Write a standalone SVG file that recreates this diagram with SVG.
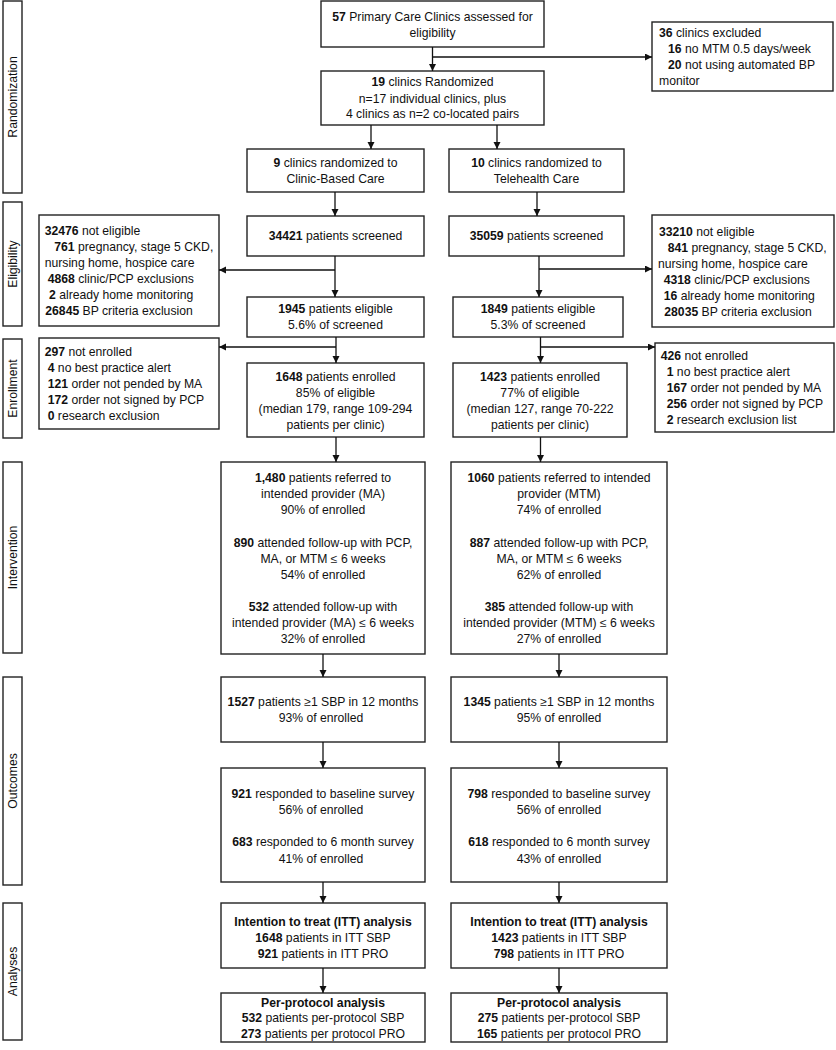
<svg xmlns="http://www.w3.org/2000/svg" width="836" height="1050" viewBox="0 0 836 1050">
<defs>
<marker id="ah" markerUnits="userSpaceOnUse" markerWidth="8" markerHeight="8" refX="7" refY="3.5" orient="auto">
<path d="M0,0 L7,3.5 L0,7 z" fill="#111"/>
</marker>
<style>
.b{fill:#fff;stroke:#222;stroke-width:1.4}
.t{font-family:"Liberation Sans",Arial,sans-serif;font-size:12.2px;fill:#111}
.c{text-anchor:middle}
.n{font-weight:bold}
#connectors path{stroke:#111;stroke-width:1.3;fill:none}
</style>
</defs>
<rect width="836" height="1050" fill="#fff"/>

<g id="lbl-randomization"><rect class="b" x="3" y="1" width="19" height="192"/><text class="t c" transform="translate(16.8,97) rotate(-90)">Randomization</text></g>
<g id="lbl-eligibility"><rect class="b" x="3" y="202" width="19" height="124"/><text class="t c" transform="translate(16.8,264) rotate(-90)">Eligibility</text></g>
<g id="lbl-enrollment"><rect class="b" x="3" y="339" width="19" height="99"/><text class="t c" transform="translate(16.8,388.5) rotate(-90)">Enrollment</text></g>
<g id="lbl-intervention"><rect class="b" x="3" y="462" width="19" height="191"/><text class="t c" transform="translate(16.8,557.5) rotate(-90)">Intervention</text></g>
<g id="lbl-outcomes"><rect class="b" x="3" y="677" width="19" height="208"/><text class="t c" transform="translate(16.8,781) rotate(-90)">Outcomes</text></g>
<g id="lbl-analyses"><rect class="b" x="3" y="903" width="19" height="137"/><text class="t c" transform="translate(16.8,971.5) rotate(-90)">Analyses</text></g>

<g id="assessed"><rect class="b" x="321" y="1" width="223" height="46"/>
<text class="t c" x="432.5" y="20.5"><tspan class="n">57</tspan> Primary Care Clinics assessed for</text>
<text class="t c" x="432.5" y="37">eligibility</text></g>

<g id="excluded"><rect class="b" x="652" y="22" width="181" height="69"/>
<text class="t" x="659" y="36.5"><tspan class="n">36</tspan> clinics excluded</text>
<text class="t" x="668" y="52.5"><tspan class="n">16</tspan> no MTM 0.5 days/week</text>
<text class="t" x="668" y="69"><tspan class="n">20</tspan> not using automated BP</text>
<text class="t" x="659" y="85">monitor</text></g>

<g id="randomized"><rect class="b" x="321" y="71" width="223" height="54"/>
<text class="t c" x="432.5" y="86"><tspan class="n">19</tspan> clinics Randomized</text>
<text class="t c" x="432.5" y="102.5">n=17 individual clinics, plus</text>
<text class="t c" x="432.5" y="118">4 clinics as n=2 co-located pairs</text></g>

<g id="clinic-based"><rect class="b" x="247" y="149" width="177" height="43"/>
<text class="t c" x="335.5" y="166.5"><tspan class="n">9</tspan> clinics randomized to</text>
<text class="t c" x="335.5" y="183">Clinic-Based Care</text></g>

<g id="telehealth"><rect class="b" x="449" y="149" width="175" height="43"/>
<text class="t c" x="536.5" y="166.5"><tspan class="n">10</tspan> clinics randomized to</text>
<text class="t c" x="536.5" y="183">Telehealth Care</text></g>

<g id="not-eligible-left"><rect class="b" x="39" y="215" width="180" height="111"/>
<text class="t" x="44.7" y="235"><tspan class="n">32476</tspan> not eligible</text>
<text class="t" x="54.3" y="251"><tspan class="n">761</tspan> pregnancy, stage 5 CKD,</text>
<text class="t" x="44.7" y="267">nursing home, hospice care</text>
<text class="t" x="47.7" y="283"><tspan class="n">4868</tspan> clinic/PCP exclusions</text>
<text class="t" x="49" y="299"><tspan class="n">2</tspan> already home monitoring</text>
<text class="t" x="45.3" y="315"><tspan class="n">26845</tspan> BP criteria exclusion</text></g>

<g id="screened-left"><rect class="b" x="247" y="216" width="177" height="40"/>
<text class="t c" x="335.5" y="240"><tspan class="n">34421</tspan> patients screened</text></g>

<g id="screened-right"><rect class="b" x="449" y="216" width="175" height="40"/>
<text class="t c" x="536.5" y="240"><tspan class="n">35059</tspan> patients screened</text></g>

<g id="not-eligible-right"><rect class="b" x="652" y="215" width="182" height="112"/>
<text class="t" x="659" y="236"><tspan class="n">33210</tspan> not eligible</text>
<text class="t" x="667.7" y="252"><tspan class="n">841</tspan> pregnancy, stage 5 CKD,</text>
<text class="t" x="658" y="267.5">nursing home, hospice care</text>
<text class="t" x="663.7" y="283.5"><tspan class="n">4318</tspan> clinic/PCP exclusions</text>
<text class="t" x="663.7" y="299.5"><tspan class="n">16</tspan> already home monitoring</text>
<text class="t" x="664.3" y="315.5"><tspan class="n">28035</tspan> BP criteria exclusion</text></g>

<g id="eligible-left"><rect class="b" x="247" y="297" width="177" height="40"/>
<text class="t c" x="335.5" y="313"><tspan class="n">1945</tspan> patients eligible</text>
<text class="t c" x="335.5" y="329">5.6% of screened</text></g>

<g id="eligible-right"><rect class="b" x="453" y="297" width="170" height="40"/>
<text class="t c" x="538" y="313"><tspan class="n">1849</tspan> patients eligible</text>
<text class="t c" x="538" y="329">5.3% of screened</text></g>

<g id="not-enrolled-left"><rect class="b" x="39" y="338" width="180" height="91"/>
<text class="t" x="44.7" y="356"><tspan class="n">297</tspan> not enrolled</text>
<text class="t" x="47.7" y="372"><tspan class="n">4</tspan> no best practice alert</text>
<text class="t" x="47.7" y="388"><tspan class="n">121</tspan> order not pended by MA</text>
<text class="t" x="47.7" y="404"><tspan class="n">172</tspan> order not signed by PCP</text>
<text class="t" x="47.7" y="420"><tspan class="n">0</tspan> research exclusion</text></g>

<g id="enrolled-left"><rect class="b" x="247" y="363" width="177" height="74"/>
<text class="t c" x="335.5" y="381"><tspan class="n">1648</tspan> patients enrolled</text>
<text class="t c" x="335.5" y="397">85% of eligible</text>
<text class="t c" x="335.5" y="413">(median 179, range 109-294</text>
<text class="t c" x="335.5" y="429">patients per clinic)</text></g>

<g id="enrolled-right"><rect class="b" x="453" y="363" width="174" height="74"/>
<text class="t c" x="540" y="381"><tspan class="n">1423</tspan> patients enrolled</text>
<text class="t c" x="540" y="397">77% of eligible</text>
<text class="t c" x="540" y="413">(median 127, range 70-222</text>
<text class="t c" x="540" y="429">patients per clinic)</text></g>

<g id="not-enrolled-right"><rect class="b" x="655" y="343" width="179" height="89"/>
<text class="t" x="660.7" y="359.5"><tspan class="n">426</tspan> not enrolled</text>
<text class="t" x="666.7" y="375.5"><tspan class="n">1</tspan> no best practice alert</text>
<text class="t" x="666.7" y="391.5"><tspan class="n">167</tspan> order not pended by MA</text>
<text class="t" x="666.7" y="407.5"><tspan class="n">256</tspan> order not signed by PCP</text>
<text class="t" x="666.7" y="424"><tspan class="n">2</tspan> research exclusion list</text></g>

<g id="intervention-left"><rect class="b" x="221" y="462" width="204" height="192"/>
<text class="t c" x="323" y="482"><tspan class="n">1,480</tspan> patients referred to</text>
<text class="t c" x="323" y="498">intended provider (MA)</text>
<text class="t c" x="323" y="514">90% of enrolled</text>
<text class="t c" x="323" y="546.5"><tspan class="n">890</tspan> attended follow-up with PCP,</text>
<text class="t c" x="323" y="562.5">MA, or MTM ≤ 6 weeks</text>
<text class="t c" x="323" y="578.5">54% of enrolled</text>
<text class="t c" x="323" y="611"><tspan class="n">532</tspan> attended follow-up with</text>
<text class="t c" x="323" y="627">intended provider (MA) ≤ 6 weeks</text>
<text class="t c" x="323" y="643">32% of enrolled</text></g>

<g id="intervention-right"><rect class="b" x="451" y="462" width="216" height="192"/>
<text class="t c" x="559" y="482"><tspan class="n">1060</tspan> patients referred to intended</text>
<text class="t c" x="559" y="498">provider (MTM)</text>
<text class="t c" x="559" y="514">74% of enrolled</text>
<text class="t c" x="559" y="546.5"><tspan class="n">887</tspan> attended follow-up with PCP,</text>
<text class="t c" x="559" y="562.5">MA, or MTM ≤ 6 weeks</text>
<text class="t c" x="559" y="578.5">62% of enrolled</text>
<text class="t c" x="559" y="611"><tspan class="n">385</tspan> attended follow-up with</text>
<text class="t c" x="559" y="627">intended provider (MTM) ≤ 6 weeks</text>
<text class="t c" x="559" y="643">27% of enrolled</text></g>

<g id="sbp-left"><rect class="b" x="221" y="677" width="204" height="65"/>
<text class="t c" x="323" y="706"><tspan class="n">1527</tspan> patients ≥1 SBP in 12 months</text>
<text class="t c" x="321" y="722">93% of enrolled</text></g>

<g id="sbp-right"><rect class="b" x="451" y="677" width="216" height="65"/>
<text class="t c" x="559" y="706"><tspan class="n">1345</tspan> patients ≥1 SBP in 12 months</text>
<text class="t c" x="559" y="722">95% of enrolled</text></g>

<g id="survey-left"><rect class="b" x="221" y="768" width="204" height="114"/>
<text class="t c" x="323" y="797.5"><tspan class="n">921</tspan> responded to baseline survey</text>
<text class="t c" x="321" y="813.5">56% of enrolled</text>
<text class="t c" x="323" y="846"><tspan class="n">683</tspan> responded to 6 month survey</text>
<text class="t c" x="321" y="862.5">41% of enrolled</text></g>

<g id="survey-right"><rect class="b" x="451" y="768" width="216" height="114"/>
<text class="t c" x="559" y="797.5"><tspan class="n">798</tspan> responded to baseline survey</text>
<text class="t c" x="559" y="813.5">56% of enrolled</text>
<text class="t c" x="559" y="846"><tspan class="n">618</tspan> responded to 6 month survey</text>
<text class="t c" x="559" y="862.5">43% of enrolled</text></g>

<g id="itt-left"><rect class="b" x="221" y="903" width="204" height="65"/>
<text class="t c n" x="323" y="926">Intention to treat (ITT) analysis</text>
<text class="t c" x="323" y="942"><tspan class="n">1648</tspan> patients in ITT SBP</text>
<text class="t c" x="323" y="958"><tspan class="n">921</tspan> patients in ITT PRO</text></g>

<g id="itt-right"><rect class="b" x="451" y="903" width="216" height="65"/>
<text class="t c n" x="559" y="926">Intention to treat (ITT) analysis</text>
<text class="t c" x="559" y="942"><tspan class="n">1423</tspan> patients in ITT SBP</text>
<text class="t c" x="559" y="958"><tspan class="n">798</tspan> patients in ITT PRO</text></g>

<g id="pp-left"><rect class="b" x="221" y="993" width="204" height="49"/>
<text class="t c n" x="323" y="1006.5">Per-protocol analysis</text>
<text class="t c" x="323" y="1022"><tspan class="n">532</tspan> patients per-protocol SBP</text>
<text class="t c" x="323" y="1037.5"><tspan class="n">273</tspan> patients per protocol PRO</text></g>

<g id="pp-right"><rect class="b" x="451" y="993" width="216" height="49"/>
<text class="t c n" x="559" y="1006.5">Per-protocol analysis</text>
<text class="t c" x="559" y="1022"><tspan class="n">275</tspan> patients per-protocol SBP</text>
<text class="t c" x="559" y="1037.5"><tspan class="n">165</tspan> patients per protocol PRO</text></g>

<g id="connectors">
<path d="M432.5,47 V71" marker-end="url(#ah)"/>
<path d="M432.5,57 H652" marker-end="url(#ah)"/>
<path d="M371,125 V149" marker-end="url(#ah)"/>
<path d="M497,125 V149" marker-end="url(#ah)"/>
<path d="M335,192 V216" marker-end="url(#ah)"/>
<path d="M537,192 V216" marker-end="url(#ah)"/>
<path d="M335,256 V297" marker-end="url(#ah)"/>
<path d="M335,270 H219" marker-end="url(#ah)"/>
<path d="M539,256 V297" marker-end="url(#ah)"/>
<path d="M539,269 H652" marker-end="url(#ah)"/>
<path d="M336,337 V363" marker-end="url(#ah)"/>
<path d="M336,347 H219" marker-end="url(#ah)"/>
<path d="M540.5,337 V363" marker-end="url(#ah)"/>
<path d="M540.5,347 H655" marker-end="url(#ah)"/>
<path d="M336,437 V462" marker-end="url(#ah)"/>
<path d="M540.5,437 V462" marker-end="url(#ah)"/>
<path d="M323,654 V677" marker-end="url(#ah)"/>
<path d="M559,654 V677" marker-end="url(#ah)"/>
<path d="M323,742 V768" marker-end="url(#ah)"/>
<path d="M559,742 V768" marker-end="url(#ah)"/>
<path d="M323,882 V903" marker-end="url(#ah)"/>
<path d="M559,882 V903" marker-end="url(#ah)"/>
<path d="M323,968 V993" marker-end="url(#ah)"/>
<path d="M559,968 V993" marker-end="url(#ah)"/>
</g>
</svg>
